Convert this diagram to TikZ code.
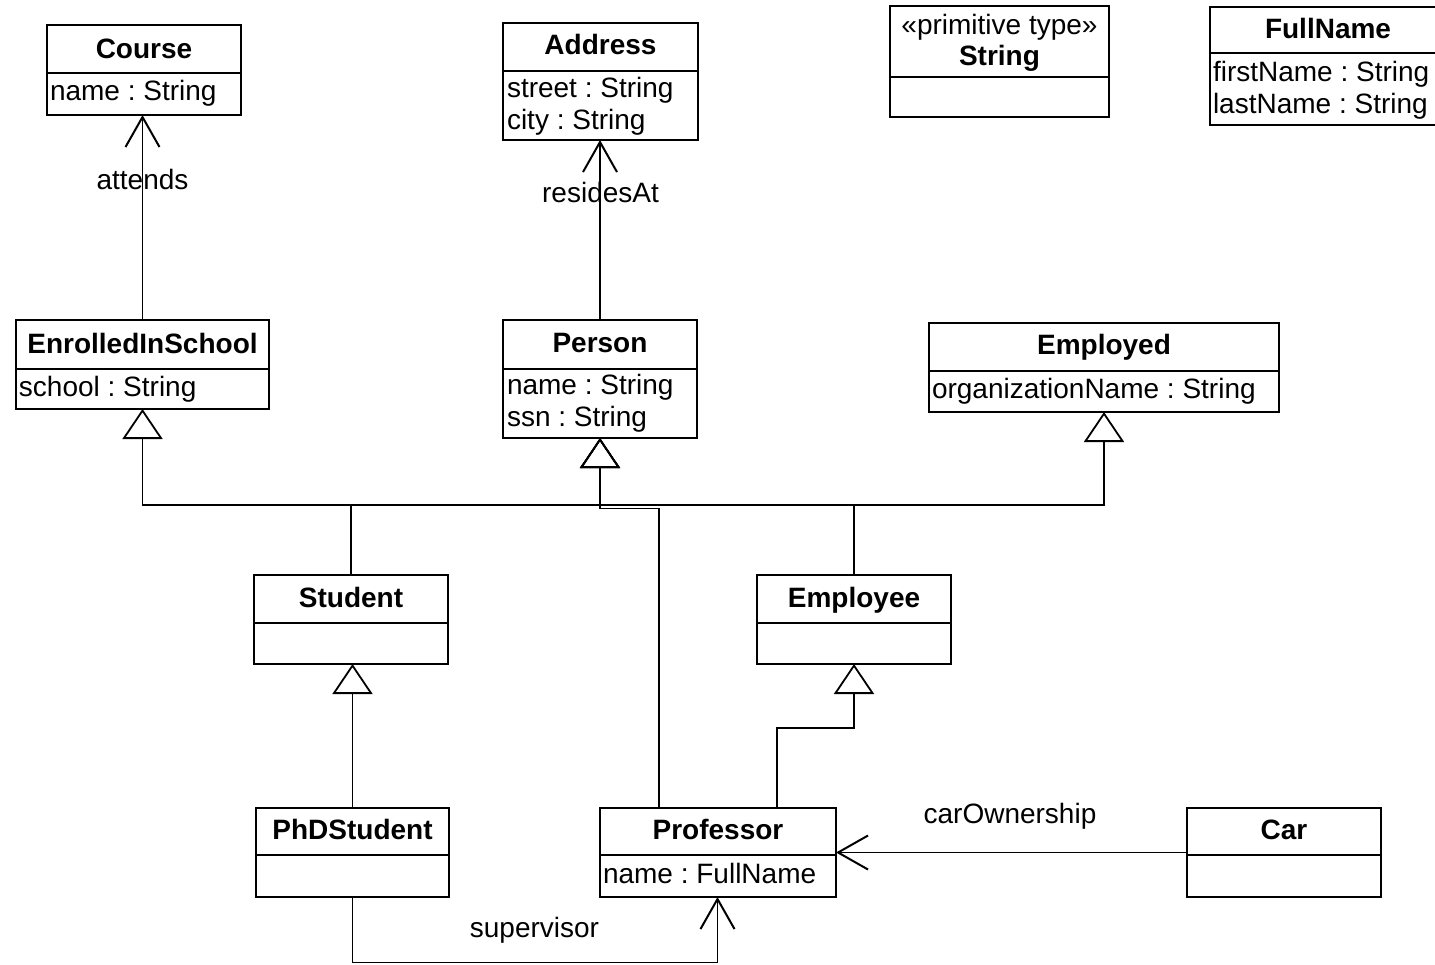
\documentclass[tikz,border=0pt]{standalone}
\usepackage{fontspec}
\setmainfont{Liberation Sans}
\usetikzlibrary{arrows.meta}
\frenchspacing

% one UML class: name, left, top, right, bottom, y of the compartment divider
\newcommand{\umlbox}[6]{%
  \node[classbox, minimum width={#4pt-#2pt}, minimum height={#5pt-#3pt}]
    (#1) at ({(#2+#4)/2},{(#3+#5)/2}) {};
  \draw[divider] (#2,#6) -- (#4,#6);
}

\begin{document}
\begin{tikzpicture}[x=1pt,y=-1pt,
  every node/.style={inner sep=0pt, outer sep=0pt},
  txt/.style={font=\fontsize{28}{33}\selectfont},
  classbox/.style={draw, line width=2pt, rectangle},
  divider/.style={line width=2pt},
  title/.style={txt, font=\fontsize{28}{33}\selectfont\bfseries, anchor=base},
  stereo/.style={txt, anchor=base},
  attr/.style={txt, anchor=base west},
  lbl/.style={txt, anchor=base},
  gen/.style={line width=1.4pt, -{Triangle[open, length=30pt, width=40pt, line width=1.8pt]}},
  assoc/.style={line width=1.4pt, -{Straight Barb[length=30pt, width=34pt, line width=2pt]}},
]
\path[fill=white, use as bounding box] (0,0) rectangle (1435,964);

% classes
\umlbox{course}{47}{25}{241}{115}{73}
\node[title] (course-t) at (144,58) {Course};
\node[attr] (course-a1) at (50,100) {name : String};

\umlbox{address}{503}{23}{698}{140}{71}
\node[title] (address-t) at (600.5,54) {Address};
\node[attr] (address-a1) at (507,97) {street : String};
\node[attr] (address-a2) at (507,129) {city : String};

\umlbox{string}{890}{6}{1109}{117}{77}
\node[stereo] (string-s) at (999.5,34) {«primitive type»};
\node[title] (string-t) at (999.5,65) {String};

\umlbox{fullname}{1210}{7}{1446}{125}{53}
\node[title] (fullname-t) at (1328,38) {FullName};
\node[attr] (fullname-a1) at (1213,81) {firstName : String};
\node[attr] (fullname-a2) at (1213,113) {lastName : String};

\umlbox{enrolled}{16}{320}{269}{409}{369}
\node[title] (enrolled-t) at (142.5,353) {EnrolledInSchool};
\node[attr] (enrolled-a1) at (19,396) {school : String};

\umlbox{person}{503}{320}{697}{438}{369}
\node[title] (person-t) at (600,352) {Person};
\node[attr] (person-a1) at (507,394) {name : String};
\node[attr] (person-a2) at (507,426) {ssn : String};

\umlbox{employed}{929}{323}{1279}{412}{371}
\node[title] (employed-t) at (1104,354) {Employed};
\node[attr] (employed-a1) at (932,398) {organizationName : String};

\umlbox{student}{254}{575}{448}{664}{623}
\node[title] (student-t) at (351,607) {Student};

\umlbox{employee}{757}{575}{951}{664}{623}
\node[title] (employee-t) at (854,607) {Employee};

\umlbox{phd}{256}{808}{449}{897}{855}
\node[title] (phd-t) at (352.5,839) {PhDStudent};

\umlbox{prof}{600}{808}{836}{897}{855}
\node[title] (prof-t) at (718,839) {Professor};
\node[attr] (prof-a1) at (603,883) {name : FullName};

\umlbox{car}{1187}{808}{1381}{897}{855}
\node[title] (car-t) at (1284,839) {Car};

% associations
\draw[assoc] (enrolled.north) -- (enrolled.north |- course.south);
\node[lbl] (attends) at (142.5,189) {attends};

\draw[assoc] (person.north) -- (person.north |- address.south);
\node[lbl] (residesat) at (600.5,202) {residesAt};

\draw[assoc] (car.west) -- (car.west -| prof.east);
\node[lbl] (carownership) at (1010,823) {carOwnership};

\draw[assoc] (phd.south) -- ++(0,65.5) -| ([xshift=-0.5pt]prof.south);
\node[lbl] (supervisor) at (534.5,937) {supervisor};

% generalizations
\draw[gen] (student.north) -- ++(0,-70) -| (enrolled.south);
\draw[gen] (student.north) -- ++(0,-70) -| (person.south);
\draw[gen] (employee.north) -- ++(0,-70) -| (person.south);
\draw[gen] (employee.north) -- ++(0,-70) -| (employed.south);
\draw[gen] ([xshift=-59pt]prof.north) -- ++(0,-299.5) -| (person.south);
\draw[gen] (phd.north) -- (phd.north |- student.south);
\draw[gen] ([xshift=59pt]prof.north) -- ++(0,-80) -| (employee.south);
\end{tikzpicture}
\end{document}
